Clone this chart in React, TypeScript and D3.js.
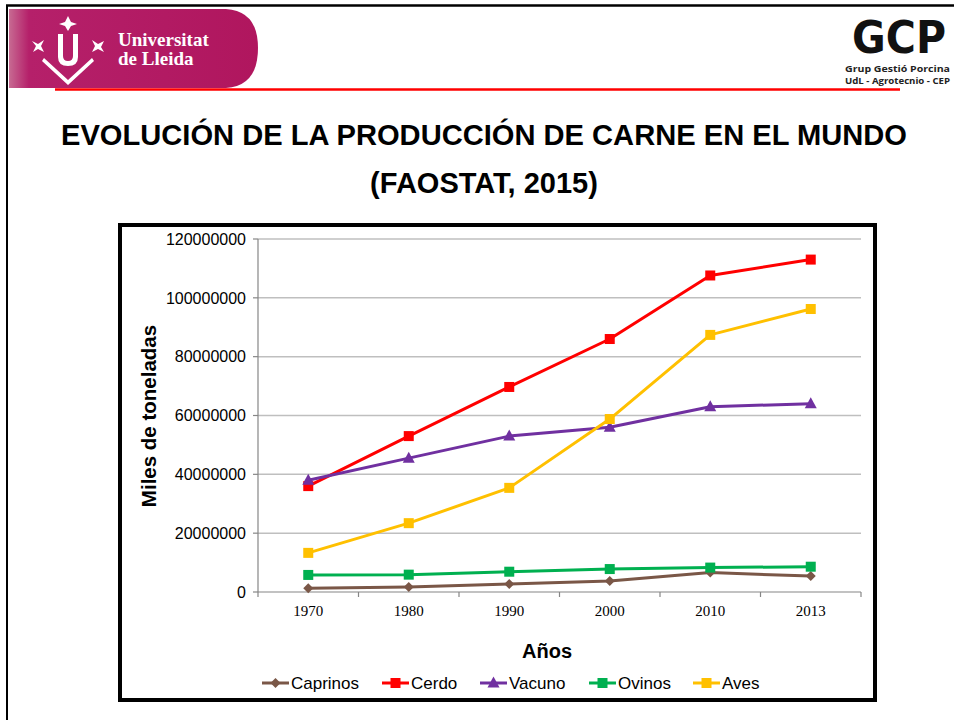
import React from "react";
import * as d3 from "d3";

const years = ["1970", "1980", "1990", "2000", "2010", "2013"];
const seriesNames = ["Caprinos", "Cerdo", "Vacuno", "Ovinos", "Aves"];
const caprinos = [1250000, 1700000, 2700000, 3700000, 6600000, 5400000];
const cerdo = [36000000, 53000000, 69700000, 86000000, 107600000, 113000000];
const vacuno = [38000000, 45500000, 53000000, 56000000, 63000000, 64000000];
const ovinos = [5800000, 5900000, 6900000, 7800000, 8300000, 8600000];
const aves = [13300000, 23400000, 35400000, 58800000, 87400000, 96200000];
const yTicks = [0, 20000000, 40000000, 60000000, 80000000, 100000000, 120000000];

const colors = ["#7a5747", "#ff0000", "#7030a0", "#00b050", "#ffc000"];
const markers = ["diamond", "square", "triangle", "square", "square"];
const seriesValues = [caprinos, cerdo, vacuno, ovinos, aves];

const ARIAL = "'Liberation Sans', Arial, sans-serif";
const TIMES = "'Liberation Serif', 'Times New Roman', serif";

function Marker({ type, x, y, color }: { type: string; x: number; y: number; color: string }) {
  if (type === "square") return <rect x={x - 5} y={y - 5} width={10} height={10} fill={color} />;
  if (type === "diamond")
    return <path d={`M${x},${y - 5} L${x + 5},${y} L${x},${y + 5} L${x - 5},${y} Z`} fill={color} />;
  return <path d={`M${x},${y - 6.5} L${x + 6},${y + 4.5} L${x - 6},${y + 4.5} Z`} fill={color} />;
}

export default function App() {
  const x = d3.scaleBand<string>().domain(years).range([258, 861]);
  const y = d3.scaleLinear().domain([0, 120000000]).range([592, 239]);
  const cx = (d: string) => (x(d) as number) + x.bandwidth() / 2;
  const line = d3
    .line<number>()
    .x((_, i) => cx(years[i]))
    .y((v) => y(v));

  const legendX = [262, 382, 480, 589, 693];
  const boundaries = d3.range(years.length + 1).map((i) => 258 + i * x.bandwidth());

  return (
    <svg
      width={954}
      height={720}
      style={{ position: "absolute", left: 0, top: 0, display: "block", background: "#fff" }}
    >
      {/* slide frame */}
      <line x1={6} x2={954} y1={5.5} y2={5.5} stroke="#000" strokeWidth={2.5} />
      <line x1={7} x2={7} y1={5} y2={720} stroke="#000" strokeWidth={2} />

      {/* University logo banner */}
      <defs>
        <linearGradient id="ban" x1="0" x2="1" y1="0" y2="0">
          <stop offset="0" stopColor="#c76a92" />
          <stop offset="0.08" stopColor="#b5206a" />
          <stop offset="1" stopColor="#b0165e" />
        </linearGradient>
      </defs>
      <path d="M9,9 H226 Q258,11 258,48 Q258,86 226,88 H9 Z" fill="url(#ban)" />
      <g fill="#fff">
        <path d="M68,16 L71,22 L77,24 L71,26 L68,31 L65,26 L59,24 L65,22 Z" />
        <path d="M58,34 h5 v22 q0,5 5,5 q5,0 5,-5 v-22 h5 v23 q0,9 -10,9 q-10,0 -10,-9 Z" />
        <path d="M44,58 L68,80 L92,58 L94,61 L68,85 L42,61 Z" />
        <path d="M32,41 L38,44 L44,40 L41,46 L44,52 L38,49 L33,52 L36,46 Z" />
        <path d="M92,40 L98,44 L104,41 L101,47 L104,52 L98,49 L92,52 L95,46 Z" />
      </g>
      <text x={118} y={46} fill="#fff" fontFamily={TIMES} fontWeight="bold" fontSize={19}>
        Universitat
      </text>
      <text x={118} y={65} fill="#fff" fontFamily={TIMES} fontWeight="bold" fontSize={19}>
        de Lleida
      </text>

      {/* red rule */}
      <line x1={55} x2={900} y1={89.5} y2={89.5} stroke="#ff0000" strokeWidth={2.5} />

      {/* GCP logo */}
      <text x={852} y={53} fontFamily="'DejaVu Sans', sans-serif" fontWeight="bold" fontSize={44}
        textLength={94} lengthAdjust="spacingAndGlyphs" fill="#111">
        GCP
      </text>
      <text x={845} y={72} fontFamily="'Open Sans', sans-serif" fontWeight="bold" fontSize={9.5}
        textLength={105} lengthAdjust="spacingAndGlyphs" fill="#222">
        Grup Gestió Porcina
      </text>
      <text x={845} y={83.5} fontFamily="'Open Sans', sans-serif" fontWeight="bold" fontSize={9.5}
        textLength={105} lengthAdjust="spacingAndGlyphs" fill="#222">
        UdL - Agrotecnio - CEP
      </text>

      {/* Title */}
      <text x={484} y={145} textAnchor="middle" fontFamily={ARIAL} fontWeight="bold" fontSize={29}
        textLength={846} lengthAdjust="spacingAndGlyphs" fill="#000">
        EVOLUCIÓN DE LA PRODUCCIÓN DE CARNE EN EL MUNDO
      </text>
      <text x={484} y={193} textAnchor="middle" fontFamily={ARIAL} fontWeight="bold" fontSize={29} fill="#000">
        (FAOSTAT, 2015)
      </text>

      {/* chart box */}
      <rect x={120} y={225} width={755} height={475} fill="#fff" stroke="#000" strokeWidth={4} />

      {/* gridlines + y ticks */}
      {yTicks.map((t) => (
        <g key={t}>
          {t > 0 && (
            <line x1={258} x2={861} y1={y(t)} y2={y(t)} stroke="#bfbfbf" strokeWidth={1.5} />
          )}
          <line x1={253} x2={258} y1={y(t)} y2={y(t)} stroke="#868686" strokeWidth={1.2} />
          <text x={246} y={y(t)} dy="0.36em" textAnchor="end" fontFamily={ARIAL} fontSize={16} fill="#000">
            {String(t)}
          </text>
        </g>
      ))}
      <line x1={258} x2={258} y1={239} y2={592} stroke="#868686" strokeWidth={1.2} />
      <line x1={258} x2={861} y1={592} y2={592} stroke="#868686" strokeWidth={1.2} />
      {boundaries.map((b, i) => (
        <line key={i} x1={b} x2={b} y1={592} y2={597} stroke="#868686" strokeWidth={1.2} />
      ))}
      {years.map((yr) => (
        <text key={yr} x={cx(yr)} y={616} textAnchor="middle" fontFamily={TIMES} fontSize={15} fill="#000">
          {yr}
        </text>
      ))}

      {/* axis titles */}
      <text x={547} y={658} textAnchor="middle" fontFamily={ARIAL} fontWeight="bold" fontSize={20} fill="#000">
        Años
      </text>
      <text
        transform="translate(156,416) rotate(-90)"
        textAnchor="middle"
        fontFamily={ARIAL}
        fontWeight="bold"
        fontSize={20.5}
        fill="#000"
      >
        Miles de toneladas
      </text>

      {/* series */}
      {seriesValues.map((vals, si) => (
        <g key={seriesNames[si]}>
          <path d={line(vals) as string} fill="none" stroke={colors[si]} strokeWidth={3} strokeLinejoin="round" />
          {vals.map((v, i) => (
            <Marker key={i} type={markers[si]} x={cx(years[i])} y={y(v)} color={colors[si]} />
          ))}
        </g>
      ))}

      {/* legend */}
      {seriesNames.map((n, si) => (
        <g key={n}>
          <line x1={legendX[si]} x2={legendX[si] + 27} y1={683} y2={683} stroke={colors[si]} strokeWidth={3} />
          <Marker type={markers[si]} x={legendX[si] + 13.5} y={683} color={colors[si]} />
          <text x={legendX[si] + 29} y={689} fontFamily={ARIAL} fontSize={17} fill="#000">
            {n}
          </text>
        </g>
      ))}
    </svg>
  );
}
